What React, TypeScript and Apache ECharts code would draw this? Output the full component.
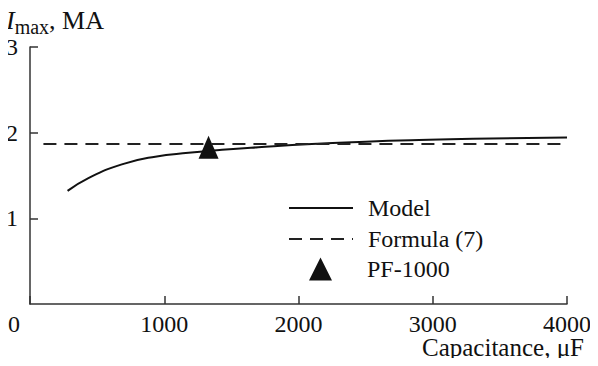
import React, { useEffect, useRef } from "react";
import * as echarts from "echarts";

const modelCapacitance = [280, 435, 684, 933, 1181, 1430, 1700, 2100, 2500, 2836, 3300, 4000];
const modelCurrent = [1.32, 1.47, 1.63, 1.72, 1.765, 1.80, 1.83, 1.868, 1.895, 1.912, 1.93, 1.945];
const formulaCapacitance = [100, 4000];
const formulaCurrent = [1.868, 1.868];
const pfCapacitance = [1330];
const pfCurrent = [1.829];
const xTicks = [0, 1000, 2000, 3000, 4000];
const yTicks = [0, 1, 2, 3];

const FONT = "Liberation Serif";

export default function App() {
  const ref = useRef<HTMLDivElement>(null);
  useEffect(() => {
    if (!ref.current) return;
    const chart = echarts.init(ref.current, undefined, { renderer: "svg" });
    const zip = (a: number[], b: number[]) => a.map((v, i) => [v, b[i]]);
    const legendText = { fontFamily: FONT, fontSize: 24, color: "#111" };
    chart.setOption({
      animation: false,
      backgroundColor: "#fff",
      textStyle: { fontFamily: FONT, color: "#111" },
      title: {
        left: 6,
        top: 3,
        padding: 0,
        text: "{i|I}{s|max}{n|, MA}",
        textStyle: {
          fontWeight: "normal",
          rich: {
            i: { fontFamily: FONT, fontStyle: "italic", fontWeight: "normal", fontSize: 26, color: "#111" },
            s: { fontFamily: FONT, fontWeight: "normal", fontSize: 20, color: "#111", padding: [14, 0, 0, 0] },
            n: { fontFamily: FONT, fontWeight: "normal", fontSize: 26, color: "#111" },
          },
        },
      },
      graphic: [
        {
          type: "text",
          left: 422,
          top: 335,
          style: { text: "Capacitance, μF", fontFamily: FONT, fontSize: 25, lineHeight: 18, fill: "#111" },
        },
      ],
      legend: [
        {
          orient: "vertical",
          left: 288,
          top: 196,
          padding: 0,
          itemWidth: 64,
          itemHeight: 23,
          itemGap: 7,
          data: [
            { name: "Model", itemStyle: { opacity: 0 } },
            { name: "Formula (7)", itemStyle: { opacity: 0 } },
          ],
          textStyle: { ...legendText, padding: [0, 0, 0, 10] },
        },
        {
          orient: "vertical",
          left: 309,
          top: 257,
          padding: 0,
          itemWidth: 23,
          itemHeight: 23,
          data: ["PF-1000"],
          textStyle: { ...legendText, padding: [0, 0, 0, 30] },
        },
      ],
      grid: { left: 30, right: 31, top: 47, bottom: 62 },
      xAxis: {
        type: "value",
        min: xTicks[0],
        max: xTicks[xTicks.length - 1],
        interval: 1000,
        axisLine: { lineStyle: { color: "#333", width: 1.5 } },
        axisTick: { inside: true, length: 8, lineStyle: { color: "#333", width: 1.5 } },
        splitLine: { show: false },
        axisLabel: {
          fontFamily: FONT,
          fontSize: 24,
          lineHeight: 18,
          color: "#111",
          margin: 11,
          formatter: (v: number) => (v === 0 ? "{z|0}" : String(v)),
          rich: { z: { fontFamily: FONT, fontSize: 24, lineHeight: 18, color: "#111", padding: [0, 32, 0, 0] } },
        },
      },
      yAxis: {
        type: "value",
        min: yTicks[0],
        max: yTicks[yTicks.length - 1],
        interval: 1,
        axisLine: { show: true, lineStyle: { color: "#333", width: 1.5 } },
        axisTick: { show: true, inside: true, length: 8, lineStyle: { color: "#333", width: 1.5 } },
        splitLine: { show: false },
        axisLabel: {
          showMinLabel: false,
          fontFamily: FONT,
          fontSize: 24,
          color: "#111",
          margin: 12,
        },
      },
      series: [
        {
          name: "Model",
          type: "line",
          smooth: true,
          symbol: "none",
          data: zip(modelCapacitance, modelCurrent),
          lineStyle: { color: "#111", width: 2 },
          itemStyle: { color: "#111" },
        },
        {
          name: "Formula (7)",
          type: "line",
          symbol: "none",
          data: zip(formulaCapacitance, formulaCurrent),
          lineStyle: { color: "#222", width: 2, type: [13, 8] },
          itemStyle: { color: "#222" },
        },
        {
          name: "PF-1000",
          type: "scatter",
          symbol: "triangle",
          symbolSize: [20, 23],
          data: zip(pfCapacitance, pfCurrent),
          itemStyle: { color: "#111", opacity: 1 },
        },
      ],
    });
    return () => chart.dispose();
  }, []);
  return <div ref={ref} style={{ width: 598, height: 366, margin: -8 }} />;
}
